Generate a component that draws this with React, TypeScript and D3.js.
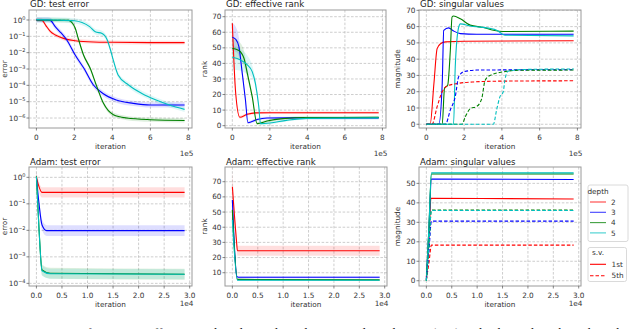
import React from "react";
import * as d3 from "d3";

const depths = ["2", "3", "4", "5"];
const depthColors = ["#ff0000", "#0000ff", "#008000", "#00bfbf"];
const svNames = ["1st", "5th"];

const gdXTicks = [0, 2, 4, 6, 8];
const adamXTicks = [0, 0.5, 1, 1.5, 2, 2.5, 3];
const gdErrTicks = [1, 1e-1, 1e-2, 1e-3, 1e-4, 1e-5, 1e-6];
const adamErrTicks = [1, 1e-1, 1e-2, 1e-3, 1e-4];
const gdRankTicks = [0, 10, 20, 30, 40, 50, 60, 70];
const adamRankTicks = [10, 20, 30, 40, 50, 60, 70];
const gdSvTicks = [0, 10, 20, 30, 40, 50, 60, 70];
const adamSvTicks = [0, 10, 20, 30, 40, 50];

// GD test error, x in 1e5 iterations
const gdErr2 = [[0, 1.0], [0.3, 0.95], [0.5, 0.45], [0.73, 0.2], [1.0, 0.12], [1.26, 0.087], [1.6, 0.065], [2.04, 0.054], [3.0, 0.045], [4.0, 0.043], [6.0, 0.041], [7.8, 0.041]];
const gdErr3 = [[0, 1.0], [0.5, 1.0], [0.73, 0.95], [0.99, 0.39], [1.3, 0.16], [1.6, 0.06], [2.04, 0.0072], [2.5, 0.0011], [3.0, 1.05e-4], [3.5, 3.2e-5], [4.2, 1.26e-5], [5.1, 7.9e-6], [6.0, 6.3e-6], [7.8, 6.3e-6]];
const gdErr4 = [[0, 1.0], [1.7, 0.95], [1.9, 0.63], [2.04, 0.32], [2.2, 0.076], [2.48, 0.0072], [2.83, 0.0011], [3.18, 8.3e-5], [3.53, 7.9e-6], [4.05, 1.6e-6], [4.75, 1.0e-6], [6.0, 7.9e-7], [7.8, 7.1e-7]];
const gdErr5 = [[0, 1.05], [1.0, 1.0], [2.0, 0.89], [2.4, 0.69], [2.8, 0.39], [3.1, 0.19], [3.46, 0.15], [3.73, 0.06], [3.9, 0.0145], [4.07, 0.0028], [4.3, 4.3e-4], [4.85, 1.05e-4], [5.55, 3.2e-5], [6.3, 1.26e-5], [7.0, 6.3e-6], [7.8, 3.4e-6]];
const gdErrSpread = [1.3, 1.45, 1.35, 1.45];

// GD effective rank: [x, rank, band half width]
const gdRank2 = [[0, 65.8, 3], [0.18, 20.8, 2], [0.4, 5.4, 1], [0.79, 7.3, 0.8], [1.23, 8.2, 0.8], [2, 8.3, 0.8], [7.8, 8.3, 0.8]];
const gdRank3 = [[0, 56.8, 9], [0.18, 55.5, 8], [0.35, 50.8, 6], [0.53, 33.6, 3], [0.7, 16.5, 2], [0.83, 1.9, 1], [1.32, 4.0, 1], [1.85, 4.9, 0.8], [3, 5.0, 0.8], [7.8, 5.0, 0.8]];
const gdRank4 = [[0, 49.7, 7], [0.35, 48.3, 6], [0.62, 43.3, 5], [0.8, 33.6, 3], [1.06, 18.6, 2], [1.32, 1.3, 1], [1.85, 3.0, 1], [2.7, 4.5, 0.8], [3.95, 5.2, 0.8], [7.8, 5.3, 0.8]];
const gdRank5 = [[0, 43.9, 8], [0.44, 42.2, 7], [0.8, 39, 6], [1.06, 34.7, 4], [1.23, 27.2, 3], [1.41, 12.3, 2], [1.5, 1.3, 1], [2.0, 1.7, 1], [2.88, 3.4, 0.8], [3.95, 4.7, 0.8], [7.8, 5.0, 0.8]];

// GD singular values (1st solid, 5th dashed)
const gdSv2a = [[0, 0], [0.2, 0], [0.4, 25], [0.57, 46.5], [0.75, 49.5], [1.01, 50.6], [2, 51], [7.8, 51.3]];
const gdSv2e = [[0, 0], [0.3, 0], [0.57, 10.8], [0.84, 20], [1.1, 23.5], [1.62, 25], [2.5, 26], [4, 26.5], [7.8, 26.7]];
const gdSv3a = [[0, 0], [0.66, 0], [0.84, 25], [0.92, 57.7], [1.18, 59.2], [1.44, 57.3], [1.8, 55.7], [2.67, 55.3], [7.8, 55.3]];
const gdSv3e = [[0, 0], [1.01, 0], [1.27, 8.8], [1.53, 17], [1.71, 29.2], [1.97, 32.2], [2.67, 33.3], [7.8, 33.5]];
const gdSv4a = [[0, 0], [0.84, 0], [0.96, 22], [1.13, 24], [1.27, 45.5], [1.36, 65.9], [1.44, 66.5], [1.8, 64.8], [2.32, 60.9], [3.02, 59.5], [3.55, 57.8], [4.07, 57], [7.8, 57.2]];
const gdSv4e = [[0, 0], [1.88, 0], [2.06, 4.5], [2.32, 9.6], [2.67, 11], [2.93, 15.7], [3.11, 26.9], [3.37, 30], [4.07, 32.2], [5, 33.2], [7.8, 33.3]];
const gdSv5a = [[0, 0], [1.44, 0], [1.53, 35.3], [1.71, 59.6], [1.8, 61.7], [2.32, 60.4], [2.75, 59.8], [3.02, 59.5], [3.72, 57.8], [4.16, 54.7], [7.8, 54.3]];
const gdSv5e = [[0, 0], [3.55, 0], [3.72, 8.8], [3.9, 17], [4.07, 20], [4.16, 27.1], [4.33, 32.6], [5, 33.6], [7.8, 34]];

// Adam test error, x in 1e4 iterations
const adamErr2 = [[0, 1.0], [0.11, 0.27], [2.9, 0.27]];
const adamErr3 = [[0, 1.0], [0.05, 0.105], [0.11, 0.016], [0.2, 0.0098], [2.9, 0.0098]];
const adamErr4 = [[0, 1.1], [0.05, 0.0126], [0.11, 3.2e-4], [0.27, 2.4e-4], [2.9, 2.2e-4]];
const adamErr5 = [[0, 1.05], [0.05, 0.012], [0.11, 3.0e-4], [0.27, 2.3e-4], [2.9, 2.2e-4]];
const adamErrSpread = [1.55, 1.6, 1.6, 1.55];

// Adam effective rank: [x, rank, band half width]
const adamRank2 = [[0, 66.7, 10], [0.08, 31.6, 4], [0.1, 24.5, 3.3], [2.9, 24.5, 3.3]];
const adamRank3 = [[0, 58, 8], [0.09, 7.4, 1], [0.12, 7.0, 0.6], [2.9, 7.0, 0.6]];
const adamRank4 = [[0, 51.4, 8], [0.1, 5.6, 0.5], [2.9, 5.3, 0.5]];
const adamRank5 = [[0, 44.8, 8], [0.1, 5.0, 0.5], [2.9, 5.0, 0.5]];

// Adam singular values
const adamSv2a = [[0, 2], [0.05, 20], [0.09, 42.3], [2.9, 42]];
const adamSv2e = [[0, 0.5], [0.05, 9], [0.1, 18.3], [2.9, 18.3]];
const adamSv3a = [[0, 1], [0.05, 26], [0.1, 52.2], [2.9, 52]];
const adamSv3e = [[0, 0.5], [0.05, 15], [0.1, 30.6], [2.9, 30.6]];
const adamSv4a = [[0, 0], [0.05, 27], [0.1, 54.8], [2.9, 54.8]];
const adamSv4e = [[0, 0], [0.05, 18], [0.1, 36.3], [2.9, 36.3]];
const adamSv5a = [[0, 0], [0.05, 27], [0.1, 55.4], [2.9, 55.4]];
const adamSv5e = [[0, 0], [0.05, 18], [0.1, 36.1], [2.9, 36.1]];

const caption =
  "1: Dynamics of test error, effective rank and singular values in gradient descent (GD) and Adam. Plots show the values of";

const FONT = "DejaVu Sans, sans-serif";
const GRID = "#b8b8b8";
const SPINE = "#9a9a9a";

const logLabel = (v) => {
  const e = Math.round(Math.log10(v));
  return (
    <>
      10
      <tspan dy={-3} fontSize={5}>{e === 0 ? "0" : "\u2212" + Math.abs(e)}</tspan>
    </>
  );
};

const Panel = ({ id, frame, xDomain, xTicks, xFmt, offset, offsetY, log, yDomain, yTicks, title, yLabel, labelGap, series }) => {
  const [x0, x1, y0, y1] = frame;
  const x = d3.scaleLinear().domain(xDomain).range([x0, x1]);
  const y = log
    ? d3.scaleLog().domain(yDomain).range([y1, y0])
    : d3.scaleLinear().domain(yDomain).range([y1, y0]);
  const line = d3
    .line()
    .x((d) => x(d[0]))
    .y((d) => y(d[1]))
    .curve(d3.curveMonotoneX);

  const bandArea = (s) => {
    const a = d3.area().x((d) => x(d[0])).curve(d3.curveMonotoneX);
    if (s.spread) {
      return a.y0((d) => y(d[1] / s.spread)).y1((d) => y(d[1] * s.spread))(s.pts);
    }
    return a.y0((d) => y(d[1] - d[2])).y1((d) => y(d[1] + d[2]))(s.pts);
  };

  const clip = `clip-${id}`;
  const top = title.startsWith("GD");
  return (
    <g fontFamily={FONT}>
      <defs>
        <clipPath id={clip}>
          <rect x={x0} y={y0} width={x1 - x0} height={y1 - y0} />
        </clipPath>
      </defs>
      {/* grid */}
      {xTicks.map((t) => (
        <line key={"gx" + t} x1={x(t)} x2={x(t)} y1={y0} y2={y1} stroke={GRID} strokeWidth={0.7} strokeDasharray="2.6,1.6" />
      ))}
      {yTicks.map((t) => (
        <line key={"gy" + t} x1={x0} x2={x1} y1={y(t)} y2={y(t)} stroke={GRID} strokeWidth={0.7} strokeDasharray="2.6,1.6" />
      ))}
      <g clipPath={`url(#${clip})`}>
        {series
          .filter((s) => s.band)
          .map((s, i) => (
            <path key={"b" + i} d={bandArea(s)} fill={s.color} fillOpacity={0.13} stroke="none" />
          ))}
        {series.map((s, i) => (
          <path
            key={"l" + i}
            d={line(s.pts)}
            fill="none"
            stroke={s.color}
            strokeWidth={1.1}
            strokeDasharray={s.dashed ? "3.5,2" : undefined}
          />
        ))}
      </g>
      {/* spines */}
      <rect x={x0} y={y0} width={x1 - x0} height={y1 - y0} fill="none" stroke={SPINE} strokeWidth={1} />
      {xTicks.map((t) => (
        <g key={"tx" + t}>
          <line x1={x(t)} x2={x(t)} y1={y1} y2={y1 + 2.5} stroke="#555" strokeWidth={0.7} />
          <text x={x(t)} y={y1 + 12} textAnchor="middle" fontSize={7.3} fill="#333">
            {xFmt(t)}
          </text>
        </g>
      ))}
      {yTicks.map((t) => (
        <g key={"ty" + t}>
          <line x1={x0 - 2.5} x2={x0} y1={y(t)} y2={y(t)} stroke="#555" strokeWidth={0.7} />
          <text x={x0 - 3.5} y={y(t) + 2.6} textAnchor="end" fontSize={7.3} fill="#333">
            {log ? logLabel(t) : t}
          </text>
        </g>
      ))}
      <text x={(x0 + x1) / 2} y={y1 + 21} textAnchor="middle" fontSize={7.3} fill="#333">
        iteration
      </text>
      <text x={x1 + 1.5} y={y1 + offsetY} textAnchor="end" fontSize={7.3} fill="#333">
        {offset}
      </text>
      <text
        transform={`translate(${x0 - labelGap},${(y0 + y1) / 2}) rotate(-90)`}
        textAnchor="middle"
        fontSize={7.3}
        fill="#333"
      >
        {yLabel}
      </text>
      <text x={x0 + 1} y={top ? 7 : 164.5} fontSize={8.6} fill="#222">
        {title}
      </text>
    </g>
  );
};

const mk = (arrs, opts) => arrs.map((pts, i) => ({ pts, color: depthColors[i], ...opts(i) }));

const App = () => {
  const gdX = [-0.39, 8.19];
  const adamX = [-0.145, 3.045];
  const intFmt = (t) => String(t);
  const decFmt = (t) => t.toFixed(1);

  const gdErrSeries = mk([gdErr2, gdErr3, gdErr4, gdErr5], (i) => ({ band: true, spread: gdErrSpread[i] }));
  const gdRankSeries = mk([gdRank2, gdRank3, gdRank4, gdRank5], () => ({ band: true }));
  const gdSvSeries = [
    ...mk([gdSv2a, gdSv3a, gdSv4a, gdSv5a], () => ({})),
    ...mk([gdSv2e, gdSv3e, gdSv4e, gdSv5e], () => ({ dashed: true })),
  ];
  const adamErrSeries = mk([adamErr2, adamErr3, adamErr4, adamErr5], (i) => ({ band: true, spread: adamErrSpread[i] }));
  const adamRankSeries = mk([adamRank2, adamRank3, adamRank4, adamRank5], () => ({ band: true }));
  const adamSvSeries = [
    ...mk([adamSv2a, adamSv3a, adamSv4a, adamSv5a], () => ({})),
    ...mk([adamSv2e, adamSv3e, adamSv4e, adamSv5e], () => ({ dashed: true })),
  ];

  const legX = 588;
  return (
    <svg
      width={640}
      height={329}
      viewBox="0 0 640 329"
      style={{ position: "absolute", left: 0, top: 0, background: "#fff" }}
    >
      <rect width={640} height={329} fill="#fff" />
      <Panel id="p1a" frame={[29, 192, 10, 128]} xDomain={gdX} xTicks={gdXTicks} xFmt={intFmt} offset="1e5" offsetY={28} labelGap={22.5}
        log yDomain={[Math.pow(10, -6.61), Math.pow(10, 0.61)]} yTicks={gdErrTicks} title="GD: test error" yLabel="error" series={gdErrSeries} />
      <Panel id="p1b" frame={[225, 386, 10, 128]} xDomain={gdX} xTicks={gdXTicks} xFmt={intFmt} offset="1e5" offsetY={28} labelGap={18}
        yDomain={[-1.5, 74.3]} yTicks={gdRankTicks} title="GD: effective rank" yLabel="rank" series={gdRankSeries} />
      <Panel id="p1c" frame={[419, 581, 10, 128]} xDomain={gdX} xTicks={gdXTicks} xFmt={intFmt} offset="1e5" offsetY={28} labelGap={19}
        yDomain={[-2.3, 70.2]} yTicks={gdSvTicks} title="GD: singular values" yLabel="magnitude" series={gdSvSeries} />
      <Panel id="p2a" frame={[29, 192, 167, 286]} xDomain={adamX} xTicks={adamXTicks} xFmt={decFmt} offset="1e4" offsetY={19.5} labelGap={22.5}
        log yDomain={[Math.pow(10, -4.1), Math.pow(10, 0.39)]} yTicks={adamErrTicks} title="Adam: test error" yLabel="error" series={adamErrSeries} />
      <Panel id="p2b" frame={[225, 387, 167, 286]} xDomain={adamX} xTicks={adamXTicks} xFmt={decFmt} offset="1e4" offsetY={19.5} labelGap={18}
        yDomain={[1.25, 79.7]} yTicks={adamRankTicks} title="Adam: effective rank" yLabel="rank" series={adamRankSeries} />
      <Panel id="p2c" frame={[419, 581, 167, 286]} xDomain={adamX} xTicks={adamXTicks} xFmt={decFmt} offset="1e4" offsetY={19.5} labelGap={19}
        yDomain={[-2.7, 58.4]} yTicks={adamSvTicks} title="Adam: singular values" yLabel="magnitude" series={adamSvSeries} />

      {/* legends */}
      <g fontFamily={FONT} fontSize={7.3} fill="#333">
        <rect x={legX} y={185} width={40} height={56.5} rx={2} fill="#fff" stroke="#d0d0d0" strokeWidth={0.8} />
        <text x={legX + 10} y={193.5} textAnchor="middle">depth</text>
        {depths.map((d, i) => (
          <g key={d}>
            <line x1={legX + 2} x2={legX + 18} y1={202 + i * 10.3} y2={202 + i * 10.3} stroke={depthColors[i]} strokeWidth={1.1} strokeOpacity={0.75} />
            <text x={legX + 23} y={204.6 + i * 10.3}>{d}</text>
          </g>
        ))}
        <rect x={legX} y={247.5} width={38.5} height={34} rx={2} fill="#fff" stroke="#d0d0d0" strokeWidth={0.8} />
        <text x={legX + 10} y={255.3} textAnchor="middle">s.v.</text>
        {svNames.map((n, i) => (
          <g key={n}>
            <line x1={legX + 2} x2={legX + 18} y1={264.3 + i * 11.4} y2={264.3 + i * 11.4} stroke={depthColors[0]} strokeWidth={1.1} strokeDasharray={i === 1 ? "3.5,2" : undefined} />
            <text x={legX + 23.5} y={266.9 + i * 11.4}>{n}</text>
          </g>
        ))}
      </g>

      <text x={10} y={337} fontFamily="Liberation Serif, Times New Roman, serif" fontSize={13.2} fill="#111">
        {caption}
      </text>
    </svg>
  );
};

export default App;
